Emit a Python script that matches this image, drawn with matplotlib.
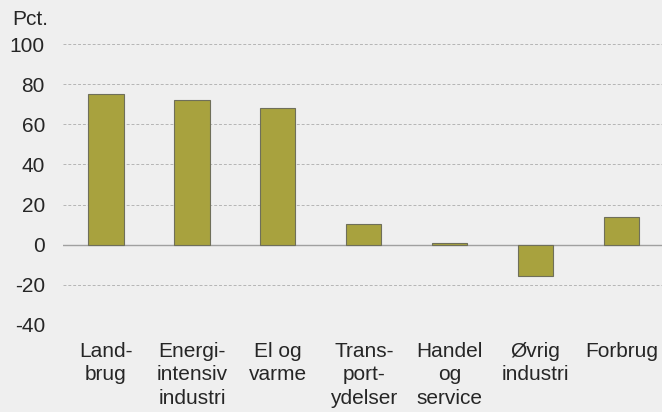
import numpy as np
import matplotlib.pyplot as plt

plt.rcParams['font.family'] = ['Liberation Sans', 'DejaVu Sans']

categories = ["Land-\nbrug", "Energi-\nintensiv\nindustri", "El og\nvarme",
              "Trans-\nport-\nydelser", "Handel\nog\nservice", "Øvrig\nindustri", "Forbrug"]
values = [75, 72, 68, 10.5, 1, -15.5, 13.7]
yticks = [-40, -20, 0, 20, 40, 60, 80, 100]

bg = "#efefef"
fig = plt.figure(figsize=(6.62, 4.12), dpi=100, facecolor=bg)
ax = fig.add_axes([63 / 662, 1 - 325 / 412, 1 - 63 / 662, (325 - 44) / 412])
ax.set_facecolor(bg)

x = np.arange(len(categories))
ax.bar(x, values, width=0.41, color="#a8a23e", edgecolor="#6f6f5a", linewidth=0.8, zorder=3)

ax.set_ylim(-40, 100)
ax.set_xlim(-0.5, 6.47)
ax.set_yticks(yticks)
ax.set_yticklabels([str(t) for t in yticks])
ax.set_xticks(x)
ax.set_xticklabels(categories, linespacing=1.32)
ax.tick_params(axis="both", length=0, labelsize=15, colors="#262626")
ax.tick_params(axis="x", pad=12)
ax.tick_params(axis="y", pad=13)

for t in yticks:
    if t != 0:
        ax.axhline(t, color="#b5b5b5", linestyle=(0, (3, 2)), linewidth=0.7, zorder=1)
ax.axhline(0, color="#a0a0a0", linewidth=1.0, zorder=2)

for s in ax.spines.values():
    s.set_visible(False)

fig.text(12 / 662, 1 - 10 / 412, "Pct.", fontsize=15, color="#262626", va="top", ha="left")

fig.savefig("out.png", dpi=100, facecolor=bg)
